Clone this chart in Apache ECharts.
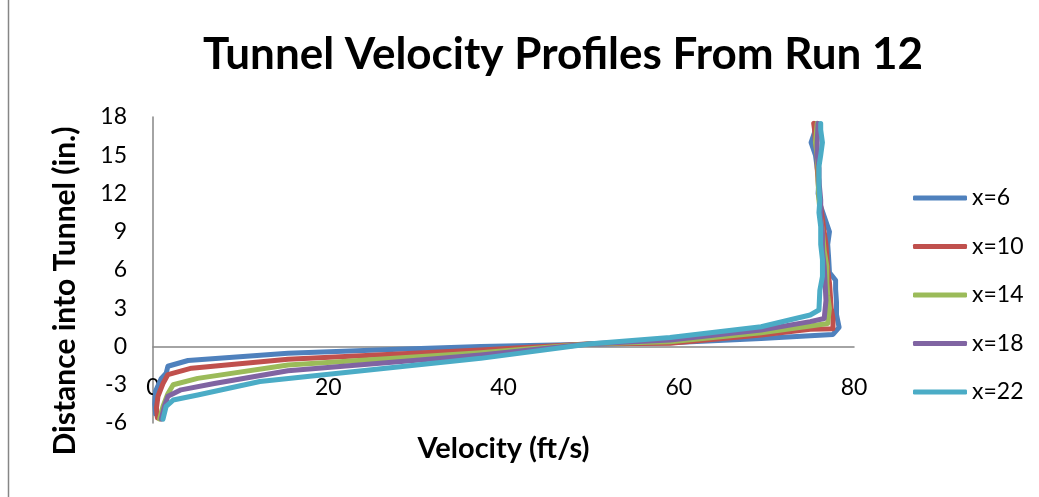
<!DOCTYPE html>
<html>
<head>
<meta charset="utf-8">
<script src="https://cdn.jsdelivr.net/npm/echarts@6/dist/echarts.min.js"></script>
<style>
  html, body { margin: 0; padding: 0; background: #fff; }
  #chart { width: 1039px; height: 497px; }
</style>
</head>
<body>
<div id="chart"></div>
<script>
// Velocity (ft/s) vs distance into tunnel (in.) at several stations, Run 12
const seriesNames = ['x=6', 'x=10', 'x=14', 'x=18', 'x=22'];
const seriesColors = ['#4F81BD', '#C0504D', '#9BBB59', '#8064A2', '#4BACC6'];

const profileX6 = [[0.3,-5.3],[0.2,-4.5],[0.3,-3.5],[0.95,-2.5],[1.5,-2.1],[1.7,-1.55],[4,-1.1],[15.4,-0.53],[28,-0.22],[37.4,0],[50,0.18],[59,0.3],[69.4,0.62],[75,0.85],[77.6,0.95],[78.3,1.5],[78,2.5],[78,3.5],[77.9,4.5],[77.9,5.2],[77.2,5.8],[77.1,7],[77,8],[77.2,9],[76.7,10],[76.2,11],[75.9,12],[76,13],[75.8,14],[75.6,15],[75.1,16],[75.5,16.8],[75.5,17.5]];
const profileX10 = [[0.5,-5.6],[0.4,-4.8],[0.57,-3.9],[1.14,-2.9],[1.7,-2.2],[4.4,-1.7],[15.4,-1.0],[37.4,-0.27],[50,0.22],[59,0.25],[69.4,0.9],[75,1.35],[77.6,1.4],[77.6,2.2],[77.4,3],[77.3,4],[77.2,5],[77,6],[76.9,7],[76.8,8],[76.6,9],[76.4,10],[76.2,11],[76,12],[75.9,13],[75.8,14],[75.8,15],[75.6,16],[75.5,17],[75.4,17.5]];
const profileX14 = [[0.76,-5.7],[1.14,-4.7],[1.7,-3.7],[2.3,-3.0],[5.1,-2.5],[15.4,-1.45],[37.4,-0.49],[50,0.22],[59,0.38],[69.4,1.08],[75,1.6],[77,1.8],[77.2,3],[77,4],[76.9,5],[76.9,6.3],[76.6,7.5],[76.4,9],[76.2,10],[76,11.5],[75.9,13],[75.9,14],[75.8,15],[75.6,16],[75.8,17.5]];
const profileX18 = [[0.95,-5.7],[1.3,-4.7],[1.7,-3.9],[3.2,-3.4],[7,-2.9],[15.4,-1.9],[37.4,-0.67],[50,0.22],[59,0.5],[69.4,1.3],[75,1.95],[76.6,2.2],[76.8,3.6],[76.7,5],[76.6,6.3],[76.4,7.5],[76.4,8.9],[76.2,10],[76.2,11.5],[76,13],[76,14],[75.8,15],[75.8,16],[75.9,17.5]];
const profileX22 = [[1.14,-5.7],[1.5,-4.7],[2.3,-4.2],[5.1,-3.8],[12.2,-2.75],[37.4,-0.93],[50,0.22],[59,0.7],[69.4,1.55],[75,2.47],[76,2.86],[76.1,4.4],[76.4,5.5],[76.4,6.8],[76.2,8],[76.2,9.4],[76,10.5],[76.1,11.5],[76,12.5],[76,14.1],[76.2,15],[76.4,16],[76.2,17],[76.2,17.5]];
const profiles = [profileX6, profileX10, profileX14, profileX18, profileX22];

const font = 'Lato, "Open Sans", sans-serif';
const chart = echarts.init(document.getElementById('chart'), null, { renderer: 'canvas' });

chart.setOption({
  animation: false,
  backgroundColor: '#ffffff',
  title: {
    text: 'Tunnel Velocity Profiles From Run 12',
    left: 558, top: 28, textAlign: 'center',
    textStyle: { fontFamily: font, fontWeight: 'bold', fontSize: 44, color: '#000' }
  },
  legend: {
    orient: 'vertical',
    left: 908, top: 181,
    icon: 'roundRect',
    itemWidth: 54, itemHeight: 5,
    itemGap: 24.5,
    data: seriesNames,
    textStyle: { fontFamily: font, fontSize: 23, color: '#000', lineHeight: 24 }
  },
  grid: { left: 153, right: 185, top: 117, bottom: 74, containLabel: false, outerBoundsMode: 'none' },
  xAxis: {
    type: 'value', min: 0, max: 80, interval: 20,
    name: 'Velocity (ft/s)', nameLocation: 'middle', nameGap: 11,
    nameTextStyle: { fontFamily: font, fontWeight: 'bold', fontSize: 29, color: '#000' },
    axisLine: { onZero: true, lineStyle: { color: '#868686', width: 1.5 } },
    axisTick: { show: false },
    axisLabel: { margin: -47, fontFamily: font, fontSize: 23, color: '#000' },
    splitLine: { show: false }
  },
  yAxis: {
    type: 'value', min: -6, max: 18, interval: 3,
    axisLine: { show: true, onZero: false, lineStyle: { color: '#868686', width: 1.5 } },
    axisTick: { show: false },
    axisLabel: { margin: 26, fontFamily: font, fontSize: 23, color: '#000' },
    splitLine: { show: false }
  },
  graphic: [
    {
      type: 'text', x: 65, y: 291, rotation: Math.PI / 2,
      style: {
        text: 'Distance into Tunnel (in.)', fill: '#000',
        font: 'bold 30px ' + font, align: 'center', verticalAlign: 'middle'
      }
    },
    {
      type: 'line', shape: { x1: 8.5, y1: 0, x2: 8.5, y2: 497 },
      style: { stroke: '#868686', lineWidth: 1.5 }
    }
  ],
  series: profiles.map((data, i) => ({
    name: seriesNames[i],
    type: 'line',
    data: data,
    showSymbol: false,
    symbol: 'none',
    smooth: false,
    color: seriesColors[i],
    lineStyle: { width: 5, color: seriesColors[i], cap: 'round', join: 'round' }
  }))
});
</script>
</body>
</html>
